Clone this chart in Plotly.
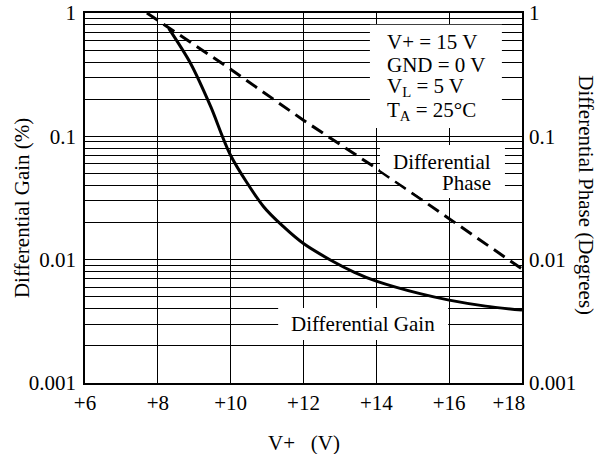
import plotly.graph_objects as go

# differential gain curve (left axis, %)
gain_v = [8.3, 8.9, 9.45, 10.0, 10.9, 11.45, 12.0, 12.75, 13.4, 14.0, 15.2, 16.0, 17.0, 18.0]
gain_pct = [0.75, 0.39, 0.175, 0.07, 0.027, 0.0185, 0.0135, 0.0099, 0.0079, 0.0067, 0.0053, 0.0047, 0.0042, 0.0039]

# differential phase curve (right axis, degrees)
phase_v = [7.7, 10.0, 12.0, 14.0, 16.0, 18.0]
phase_deg = [1.0, 0.35, 0.135, 0.055, 0.0215, 0.0084]

x_ticks = [6, 8, 10, 12, 14, 16, 18]
x_labels = ["+6", "+8", "+10", "+12", "+14", "+16", "+18" + "\u00a0" * 5]
y_ticks = [0.001, 0.01, 0.1, 1]
y_labels = ["0.001", "0.01", "0.1", "1"]
y_minor = [m * 10 ** e for e in (-3, -2, -1) for m in range(2, 10)]

FONT = "Liberation Serif"

fig = go.Figure()

fig.add_scatter(x=gain_v, y=gain_pct, mode="lines", line=dict(color="black", width=3, shape="spline", smoothing=0.8))
fig.add_scatter(x=phase_v, y=phase_deg, mode="lines", yaxis="y2",
                line=dict(color="black", width=3, dash="13px,7px"))

fig.update_layout(
    width=598, height=454,
    margin=dict(l=85, r=76, t=13, b=71),
    plot_bgcolor="white", paper_bgcolor="white",
    showlegend=False,
    font=dict(family=FONT, size=21, color="black"),
)

fig.update_xaxes(range=[6, 18], tickmode="array", tickvals=x_ticks, ticktext=x_labels,
                 showgrid=True, gridcolor="black", gridwidth=1, zeroline=False,
                 showline=True, mirror=True, linecolor="black", linewidth=1.5,
                 ticks="", ticklabelstandoff=0, automargin=False)

fig.update_yaxes(type="log", range=[-3, 0], tickmode="array", tickvals=y_ticks, ticktext=y_labels,
                 showgrid=True, gridcolor="black", gridwidth=1, zeroline=False,
                 minor=dict(tickmode="array", tickvals=y_minor, showgrid=True, gridcolor="black", gridwidth=1),
                 showline=True, mirror=True, linecolor="black", linewidth=1.5,
                 ticks="", ticklabelstandoff=3, automargin=False)

fig.update_layout(yaxis2=dict(type="log", range=[-3, 0], overlaying="y", side="right",
                              tickmode="array", tickvals=y_ticks, ticktext=y_labels,
                              showgrid=False, zeroline=False, showline=False,
                              ticks="", ticklabelstandoff=6, automargin=False))

# white boxes behind the labels (hide the grid)
fig.add_shape(type="rect", xref="paper", yref="paper", x0=0.652, x1=0.954, y0=0.689, y1=0.968,
              fillcolor="white", line_width=0)
fig.add_shape(type="rect", xref="paper", yref="paper", x0=0.442, x1=0.831, y0=0.116, y1=0.203,
              fillcolor="white", line_width=0)
# phase label box, cut back along the dashed line so the line stays visible
fig.add_shape(type="path", xref="paper", yref="paper",
              path="M 0.675 0.643 L 0.961 0.643 L 0.961 0.5 L 0.771 0.5 L 0.675 0.576 Z",
              fillcolor="white", line_width=0)

# conditions
for txt, yy in [("V+ = 15 V", 0.922), ("GND = 0 V", 0.860),
                ("V<sub>L</sub> = 5 V", 0.801), ("T<sub>A</sub> = 25°C", 0.736)]:
    fig.add_annotation(text=txt, xref="paper", yref="paper", x=0.6865, y=yy,
                       xanchor="left", yanchor="middle", showarrow=False)

fig.add_annotation(text="Differential", xref="paper", yref="paper", x=0.934, y=0.598,
                   xanchor="right", yanchor="middle", showarrow=False)
fig.add_annotation(text="Phase", xref="paper", yref="paper", x=0.934, y=0.540,
                   xanchor="right", yanchor="middle", showarrow=False)
fig.add_annotation(text="Differential Gain", xref="paper", yref="paper", x=0.636, y=0.1595,
                   xanchor="center", yanchor="middle", showarrow=False)

# axis titles
fig.add_annotation(text="Differential Gain (%)", xref="paper", yref="paper", x=-0.144, y=0.473,
                   xanchor="center", yanchor="middle", textangle=-90, showarrow=False)
fig.add_annotation(text="Differential Phase (Degrees)", xref="paper", yref="paper", x=1.146, y=0.508,
                   xanchor="center", yanchor="middle", textangle=90, showarrow=False)
fig.add_annotation(text="V+\u00a0\u00a0\u00a0(V)", xref="paper", yref="paper", x=0.5, y=-0.162,
                   xanchor="center", yanchor="middle", showarrow=False)

# page body has a default 8px margin; drop it so the figure fills the window
fig.write_html("out.html", config={"displayModeBar": False},
               post_script="document.body.style.margin = '0';")
